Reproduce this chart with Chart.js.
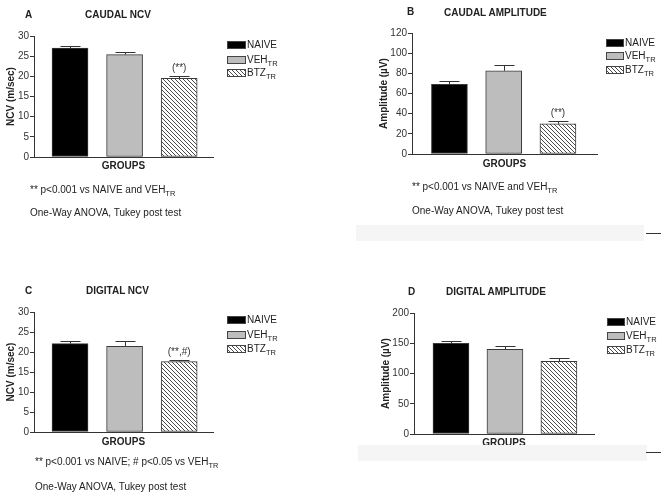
<!DOCTYPE html>
<html><head><meta charset="utf-8">
<script src="https://cdn.jsdelivr.net/npm/chart.js@4.4.1/dist/chart.umd.min.js"></script>
<style>
html,body{margin:0;padding:0;background:#fff;}
#page{position:relative;width:668px;height:499px;overflow:hidden;font-family:"Liberation Sans",Arial,sans-serif;color:#222;}
canvas{position:absolute;}
.t{position:absolute;font-size:10px;line-height:12px;white-space:nowrap;}
.b{font-weight:bold;}
.sw{position:absolute;box-sizing:border-box;border:1px solid #444;}
sub{font-size:7.5px;vertical-align:-3px;line-height:0;}
.band{position:absolute;background:#f5f5f5;}
.dash{position:absolute;height:1px;background:#333;}
</style></head><body><div id="page"></div>
<script>
// ---- data ----
const categories = ['NAIVE', 'VEH', 'BTZ'];
const legendLabels = ['NAIVE', 'VEH<sub>TR</sub>', 'BTZ<sub>TR</sub>'];

const caudalNcvMean = [27.0, 25.4, 19.5];
const caudalNcvErr  = [0.45, 0.6, 0.5];
const caudalNcvMarks = ['', '', '(**)'];

const caudalAmpMean = [69, 82.5, 30];
const caudalAmpErr  = [3.5, 5.5, 3];
const caudalAmpMarks = ['', '', '(**)'];

const digitalNcvMean = [22.1, 21.4, 17.6];
const digitalNcvErr  = [0.7, 1.4, 0.5];
const digitalNcvMarks = ['', '', '(**,#)'];

const digitalAmpMean = [150, 140, 120];
const digitalAmpErr  = [3.5, 6, 5];
const digitalAmpMarks = ['', '', ''];

const ncvTicks = {max: 30, step: 5};
const caudalAmpTicks = {max: 120, step: 20};
const digitalAmpTicks = {max: 200, step: 50};

// ---- rendering ----
Chart.defaults.font.family = '"Liberation Sans", Arial, sans-serif';
Chart.defaults.font.size = 10;
Chart.defaults.color = '#333';

function hatchCanvas(){
  const c = document.createElement('canvas'); c.width = 4; c.height = 4;
  const x = c.getContext('2d');
  x.fillStyle = '#fff'; x.fillRect(0,0,4,4);
  x.strokeStyle = '#4a4a4a'; x.lineWidth = 1;
  x.beginPath();
  x.moveTo(-1,-1); x.lineTo(5,5);
  x.moveTo(-1,3); x.lineTo(1,5);
  x.moveTo(3,-1); x.lineTo(5,1);
  x.stroke();
  return c;
}
const hc = hatchCanvas();
const hatchPattern = hc.getContext('2d').createPattern(hc, 'repeat');
const hatchURL = hc.toDataURL();
const fills = ['#000000', '#bdbdbd', hatchPattern];
const swatchBg = ['#000', '#bdbdbd', 'url(' + hatchURL + ')'];

const page = document.getElementById('page');

const panels = [
  {left:0,   top:0,   w:334, h:250, area:{l:34, r:213, t:36, b:157}, padL:0,  xH:15, xMin:0.34, xMax:3.62,
   ticks:ncvTicks, yTitle:'NCV (m/sec)', mean:caudalNcvMean, err:caudalNcvErr, marks:caudalNcvMarks},
  {left:334, top:0,   w:334, h:250, area:{l:78, r:263, t:33, b:154}, padL:39, xH:16, xMin:0.31, xMax:3.72,
   ticks:caudalAmpTicks, yTitle:'Amplitude (\u00b5V)', mean:caudalAmpMean, err:caudalAmpErr, marks:caudalAmpMarks},
  {left:0,   top:250, w:334, h:249, area:{l:34, r:213, t:62, b:182}, padL:0,  xH:16, xMin:0.34, xMax:3.62,
   ticks:ncvTicks, yTitle:'NCV (m/sec)', mean:digitalNcvMean, err:digitalNcvErr, marks:digitalNcvMarks},
  {left:334, top:250, w:334, h:249, area:{l:80, r:260, t:63, b:184}, padL:41, xH:15, xMin:0.315, xMax:3.65,
   ticks:digitalAmpTicks, yTitle:'Amplitude (\u00b5V)', mean:digitalAmpMean, err:digitalAmpErr, marks:digitalAmpMarks}
];

function errorPlugin(p){
  return {
    id: 'errorBars',
    afterDatasetsDraw(chart){
      const ctx = chart.ctx, meta = chart.getDatasetMeta(0), ys = chart.scales.y;
      ctx.save();
      ctx.strokeStyle = '#333'; ctx.lineWidth = 1;
      meta.data.forEach((bar, i) => {
        const top = Math.round(ys.getPixelForValue(p.mean[i] + p.err[i])) + 0.5;
        const x = Math.round(bar.x) + 0.5;
        ctx.beginPath();
        ctx.moveTo(x, bar.y); ctx.lineTo(x, top);
        ctx.moveTo(x - 10, top); ctx.lineTo(x + 10, top);
        ctx.stroke();
        if (p.marks[i]) {
          ctx.fillStyle = '#333';
          ctx.font = '10px "Liberation Sans", Arial, sans-serif';
          ctx.textAlign = 'center'; ctx.textBaseline = 'bottom';
          ctx.fillText(p.marks[i], bar.x, top - 3);
        }
      });
      ctx.restore();
    }
  };
}

panels.forEach(p => {
  const cv = document.createElement('canvas');
  cv.width = p.w; cv.height = p.h;
  cv.style.left = p.left + 'px'; cv.style.top = p.top + 'px';
  cv.style.width = p.w + 'px'; cv.style.height = p.h + 'px';
  page.appendChild(cv);
  const yW = p.area.l - p.padL;
  new Chart(cv, {
    type: 'bar',
    data: {
      datasets: [{
        label: 'groups',
        data: categories.map((c, i) => ({x: i + 1, y: p.mean[i]})),
        backgroundColor: fills,
        borderColor: '#3a3a3a',
        borderWidth: 1,
        borderSkipped: false,
        barThickness: 36
      }]
    },
    options: {
      responsive: false,
      animation: false,
      events: [],
      layout: {padding: {left: p.padL, right: p.w - p.area.r, top: p.area.t, bottom: p.h - p.area.b - p.xH}},
      plugins: {legend: {display: false}, tooltip: {enabled: false}, title: {display: false}},
      scales: {
        x: {
          type: 'linear', min: p.xMin, max: p.xMax, offset: false,
          ticks: {display: false},
          grid: {display: false, offset: false},
          border: {display: true, color: '#333', width: 1},
          title: {display: true, text: 'GROUPS', font: {size: 10, weight: 'bold'}, color: '#222', padding: {top: 0, bottom: 0}},
          afterFit(s){ s.height = p.xH; }
        },
        y: {
          min: 0, max: p.ticks.max,
          ticks: {stepSize: p.ticks.step, padding: 1, color: '#333', font: {size: 10}, autoSkip: false},
          grid: {display: true, drawOnChartArea: false, drawTicks: true, tickLength: 4, color: '#333'},
          border: {display: true, color: '#333', width: 1},
          title: {display: true, text: p.yTitle, font: {size: 10, weight: 'bold'}, color: '#222', padding: {top: 5, bottom: 0}},
          afterFit(s){ s.width = yW; }
        }
      }
    },
    plugins: [errorPlugin(p)]
  });
});

function addText(html, left, cy, cls){
  const d = document.createElement('div');
  d.className = 't ' + (cls || '');
  d.innerHTML = html;
  d.style.left = left + 'px'; d.style.top = (cy - 6) + 'px';
  page.appendChild(d);
}
// panel titles
addText('A', 25, 15, 'b');  addText('CAUDAL NCV', 85, 15, 'b');
addText('B', 407, 12, 'b'); addText('CAUDAL AMPLITUDE', 444, 13, 'b');
addText('C', 25, 291, 'b'); addText('DIGITAL NCV', 86, 291, 'b');
addText('D', 408, 292, 'b'); addText('DIGITAL AMPLITUDE', 446, 292, 'b');

// legends
const legends = [
  {x:227, w:19, ys:[41,56,69]},
  {x:606, w:18, ys:[39,52,66]},
  {x:227, w:19, ys:[316,331,345]},
  {x:607, w:18, ys:[318,332,346]}
];
legends.forEach(L => {
  legendLabels.forEach((lab, i) => {
    const s = document.createElement('div');
    s.className = 'sw';
    s.style.left = L.x + 'px'; s.style.top = L.ys[i] + 'px';
    s.style.width = L.w + 'px'; s.style.height = '8px';
    s.style.background = swatchBg[i];
    page.appendChild(s);
    addText(lab, L.x + L.w + 1, L.ys[i] + 4);
  });
});

// notes
addText('** p&lt;0.001 vs NAIVE and VEH<sub>TR</sub>', 30, 190);
addText('One-Way ANOVA, Tukey post test', 30, 213);
addText('** p&lt;0.001 vs NAIVE and VEH<sub>TR</sub>', 412, 187);
addText('One-Way ANOVA, Tukey post test', 412, 211);
addText('** p&lt;0.001 vs NAIVE; # p&lt;0.05 vs VEH<sub>TR</sub>', 35, 462);
addText('One-Way ANOVA, Tukey post test', 35, 487);

// scan artefacts: light bands and dashes
[[356,225,288,16],[358,445,289,16]].forEach(b => {
  const d = document.createElement('div'); d.className = 'band';
  d.style.left = b[0]+'px'; d.style.top = b[1]+'px'; d.style.width = b[2]+'px'; d.style.height = b[3]+'px';
  page.appendChild(d);
});
[[646,233],[646,452]].forEach(b => {
  const d = document.createElement('div'); d.className = 'dash';
  d.style.left = b[0]+'px'; d.style.top = b[1]+'px'; d.style.width = '15px';
  page.appendChild(d);
});
</script>
</body></html>
